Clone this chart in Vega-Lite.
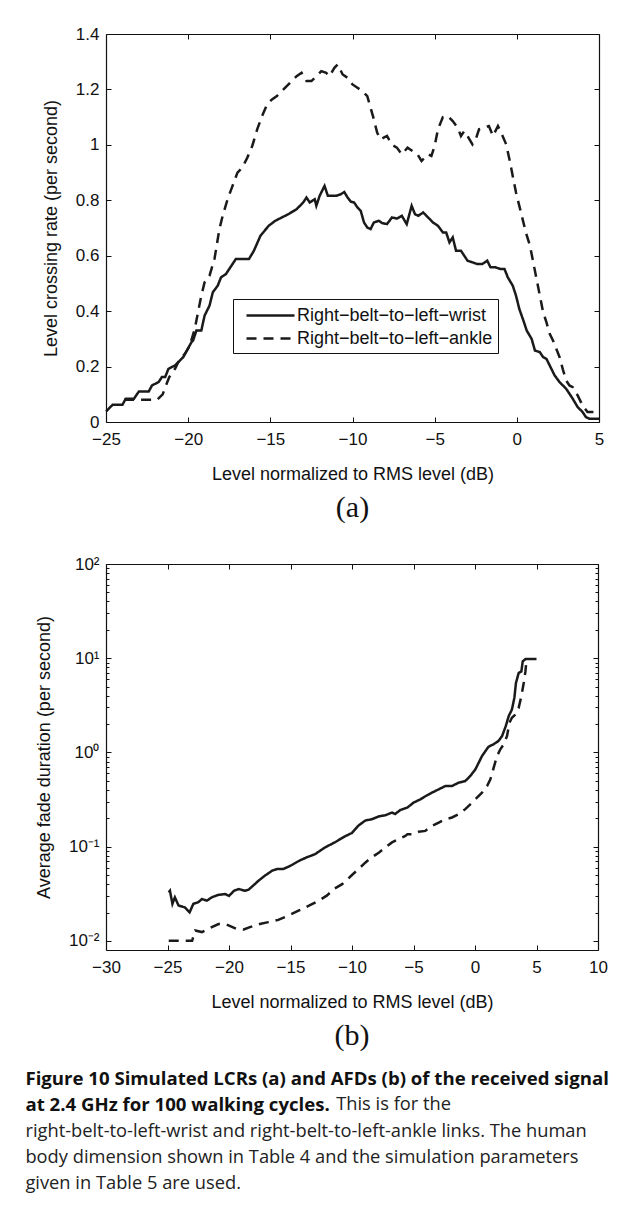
{
  "$schema": "https://vega.github.io/schema/vega-lite/v6.json",
  "background": "white",
  "padding": {"left": 25, "top": 25, "right": 5, "bottom": 5},
  "spacing": 32,
  "config": {
    "font": "Liberation Sans",
    "view": {"stroke": null},
    "axis": {
      "grid": false,
      "domainColor": "#111",
      "domainWidth": 1.2,
      "tickColor": "#111",
      "tickWidth": 1,
      "tickSize": -5,
      "labelPadding": 12,
      "labelColor": "#111",
      "labelFont": "Liberation Sans",
      "labelFontSize": 17,
      "labelFlush": false,
      "labelOverlap": false,
      "labelBound": false,
      "titleColor": "#111",
      "titleFont": "Liberation Sans",
      "titleFontSize": 18,
      "titleFontWeight": "normal"
    },
    "axisX": {"labelPadding": 14},
    "legend": {
      "orient": "none",
      "title": null,
      "strokeColor": "#111",
      "fillColor": "white",
      "padding": 5,
      "labelFont": "Liberation Sans",
      "labelFontSize": 18,
      "labelColor": "#111",
      "labelLimit": 400,
      "symbolSize": 400,
      "symbolStrokeWidth": 2.5,
      "symbolStrokeColor": "#1a1a1a",
      "rowPadding": 2
    }
  },
  "title": {
    "text": ["Figure 10 Simulated LCRs (a) and AFDs (b) of the received signal", "at 2.4 GHz for 100 walking cycles."],
    "subtitle": ["\u200b\u2003\u2003\u2003\u2003\u2003\u2003\u2003\u2003\u2003\u2003\u2003\u2003\u2003\u2003\u2003\u2003\u2003This is for the", "right-belt-to-left-wrist and right-belt-to-left-ankle links. The human", "body dimension shown in Table 4 and the simulation parameters", "given in Table 5 are used."],
    "orient": "bottom",
    "anchor": "start",
    "frame": "bounds",
    "font": "Open Sans",
    "fontSize": 18.6,
    "fontWeight": "bold",
    "lineHeight": 26.3,
    "color": "#111",
    "subtitleFont": "Open Sans",
    "subtitleFontSize": 18.3,
    "subtitleFontWeight": "normal",
    "subtitleLineHeight": 26.3,
    "subtitleColor": "#222",
    "subtitlePadding": -18.6,
    "offset": 19,
    "dx": -10
  },
  "datasets": {
    "lcr": [
      {"x": -25, "y": 0.038, "link": "Right\u2212belt\u2212to\u2212left\u2212wrist"},
      {"x": -24.6, "y": 0.062, "link": "Right\u2212belt\u2212to\u2212left\u2212wrist"},
      {"x": -24.0, "y": 0.062, "link": "Right\u2212belt\u2212to\u2212left\u2212wrist"},
      {"x": -23.8, "y": 0.084, "link": "Right\u2212belt\u2212to\u2212left\u2212wrist"},
      {"x": -23.3, "y": 0.084, "link": "Right\u2212belt\u2212to\u2212left\u2212wrist"},
      {"x": -23.0, "y": 0.11, "link": "Right\u2212belt\u2212to\u2212left\u2212wrist"},
      {"x": -22.4, "y": 0.11, "link": "Right\u2212belt\u2212to\u2212left\u2212wrist"},
      {"x": -22.2, "y": 0.132, "link": "Right\u2212belt\u2212to\u2212left\u2212wrist"},
      {"x": -21.8, "y": 0.144, "link": "Right\u2212belt\u2212to\u2212left\u2212wrist"},
      {"x": -21.6, "y": 0.162, "link": "Right\u2212belt\u2212to\u2212left\u2212wrist"},
      {"x": -21.4, "y": 0.162, "link": "Right\u2212belt\u2212to\u2212left\u2212wrist"},
      {"x": -21.2, "y": 0.192, "link": "Right\u2212belt\u2212to\u2212left\u2212wrist"},
      {"x": -20.8, "y": 0.204, "link": "Right\u2212belt\u2212to\u2212left\u2212wrist"},
      {"x": -20.6, "y": 0.216, "link": "Right\u2212belt\u2212to\u2212left\u2212wrist"},
      {"x": -20.3, "y": 0.234, "link": "Right\u2212belt\u2212to\u2212left\u2212wrist"},
      {"x": -20.1, "y": 0.255, "link": "Right\u2212belt\u2212to\u2212left\u2212wrist"},
      {"x": -19.8, "y": 0.288, "link": "Right\u2212belt\u2212to\u2212left\u2212wrist"},
      {"x": -19.7, "y": 0.294, "link": "Right\u2212belt\u2212to\u2212left\u2212wrist"},
      {"x": -19.5, "y": 0.33, "link": "Right\u2212belt\u2212to\u2212left\u2212wrist"},
      {"x": -19.2, "y": 0.33, "link": "Right\u2212belt\u2212to\u2212left\u2212wrist"},
      {"x": -19.0, "y": 0.384, "link": "Right\u2212belt\u2212to\u2212left\u2212wrist"},
      {"x": -18.7, "y": 0.42, "link": "Right\u2212belt\u2212to\u2212left\u2212wrist"},
      {"x": -18.5, "y": 0.468, "link": "Right\u2212belt\u2212to\u2212left\u2212wrist"},
      {"x": -18.2, "y": 0.492, "link": "Right\u2212belt\u2212to\u2212left\u2212wrist"},
      {"x": -18.0, "y": 0.522, "link": "Right\u2212belt\u2212to\u2212left\u2212wrist"},
      {"x": -17.7, "y": 0.534, "link": "Right\u2212belt\u2212to\u2212left\u2212wrist"},
      {"x": -17.5, "y": 0.552, "link": "Right\u2212belt\u2212to\u2212left\u2212wrist"},
      {"x": -17.1, "y": 0.588, "link": "Right\u2212belt\u2212to\u2212left\u2212wrist"},
      {"x": -16.3, "y": 0.588, "link": "Right\u2212belt\u2212to\u2212left\u2212wrist"},
      {"x": -16.0, "y": 0.618, "link": "Right\u2212belt\u2212to\u2212left\u2212wrist"},
      {"x": -15.6, "y": 0.672, "link": "Right\u2212belt\u2212to\u2212left\u2212wrist"},
      {"x": -15.1, "y": 0.708, "link": "Right\u2212belt\u2212to\u2212left\u2212wrist"},
      {"x": -14.7, "y": 0.726, "link": "Right\u2212belt\u2212to\u2212left\u2212wrist"},
      {"x": -14.3, "y": 0.738, "link": "Right\u2212belt\u2212to\u2212left\u2212wrist"},
      {"x": -13.9, "y": 0.75, "link": "Right\u2212belt\u2212to\u2212left\u2212wrist"},
      {"x": -13.4, "y": 0.768, "link": "Right\u2212belt\u2212to\u2212left\u2212wrist"},
      {"x": -13.0, "y": 0.792, "link": "Right\u2212belt\u2212to\u2212left\u2212wrist"},
      {"x": -12.8, "y": 0.81, "link": "Right\u2212belt\u2212to\u2212left\u2212wrist"},
      {"x": -12.6, "y": 0.792, "link": "Right\u2212belt\u2212to\u2212left\u2212wrist"},
      {"x": -12.3, "y": 0.804, "link": "Right\u2212belt\u2212to\u2212left\u2212wrist"},
      {"x": -12.2, "y": 0.78, "link": "Right\u2212belt\u2212to\u2212left\u2212wrist"},
      {"x": -12.0, "y": 0.816, "link": "Right\u2212belt\u2212to\u2212left\u2212wrist"},
      {"x": -11.7, "y": 0.852, "link": "Right\u2212belt\u2212to\u2212left\u2212wrist"},
      {"x": -11.5, "y": 0.816, "link": "Right\u2212belt\u2212to\u2212left\u2212wrist"},
      {"x": -11.0, "y": 0.816, "link": "Right\u2212belt\u2212to\u2212left\u2212wrist"},
      {"x": -10.7, "y": 0.822, "link": "Right\u2212belt\u2212to\u2212left\u2212wrist"},
      {"x": -10.5, "y": 0.83, "link": "Right\u2212belt\u2212to\u2212left\u2212wrist"},
      {"x": -10.3, "y": 0.81, "link": "Right\u2212belt\u2212to\u2212left\u2212wrist"},
      {"x": -10.1, "y": 0.795, "link": "Right\u2212belt\u2212to\u2212left\u2212wrist"},
      {"x": -9.9, "y": 0.792, "link": "Right\u2212belt\u2212to\u2212left\u2212wrist"},
      {"x": -9.7, "y": 0.774, "link": "Right\u2212belt\u2212to\u2212left\u2212wrist"},
      {"x": -9.5, "y": 0.762, "link": "Right\u2212belt\u2212to\u2212left\u2212wrist"},
      {"x": -9.3, "y": 0.72, "link": "Right\u2212belt\u2212to\u2212left\u2212wrist"},
      {"x": -9.1, "y": 0.702, "link": "Right\u2212belt\u2212to\u2212left\u2212wrist"},
      {"x": -8.9, "y": 0.696, "link": "Right\u2212belt\u2212to\u2212left\u2212wrist"},
      {"x": -8.7, "y": 0.72, "link": "Right\u2212belt\u2212to\u2212left\u2212wrist"},
      {"x": -8.4, "y": 0.726, "link": "Right\u2212belt\u2212to\u2212left\u2212wrist"},
      {"x": -8.2, "y": 0.718, "link": "Right\u2212belt\u2212to\u2212left\u2212wrist"},
      {"x": -7.9, "y": 0.714, "link": "Right\u2212belt\u2212to\u2212left\u2212wrist"},
      {"x": -7.6, "y": 0.738, "link": "Right\u2212belt\u2212to\u2212left\u2212wrist"},
      {"x": -7.3, "y": 0.734, "link": "Right\u2212belt\u2212to\u2212left\u2212wrist"},
      {"x": -7.0, "y": 0.744, "link": "Right\u2212belt\u2212to\u2212left\u2212wrist"},
      {"x": -6.7, "y": 0.714, "link": "Right\u2212belt\u2212to\u2212left\u2212wrist"},
      {"x": -6.4, "y": 0.78, "link": "Right\u2212belt\u2212to\u2212left\u2212wrist"},
      {"x": -6.2, "y": 0.75, "link": "Right\u2212belt\u2212to\u2212left\u2212wrist"},
      {"x": -6.0, "y": 0.744, "link": "Right\u2212belt\u2212to\u2212left\u2212wrist"},
      {"x": -5.7, "y": 0.756, "link": "Right\u2212belt\u2212to\u2212left\u2212wrist"},
      {"x": -5.4, "y": 0.738, "link": "Right\u2212belt\u2212to\u2212left\u2212wrist"},
      {"x": -5.1, "y": 0.72, "link": "Right\u2212belt\u2212to\u2212left\u2212wrist"},
      {"x": -4.8, "y": 0.708, "link": "Right\u2212belt\u2212to\u2212left\u2212wrist"},
      {"x": -4.5, "y": 0.684, "link": "Right\u2212belt\u2212to\u2212left\u2212wrist"},
      {"x": -4.3, "y": 0.684, "link": "Right\u2212belt\u2212to\u2212left\u2212wrist"},
      {"x": -4.1, "y": 0.648, "link": "Right\u2212belt\u2212to\u2212left\u2212wrist"},
      {"x": -3.9, "y": 0.666, "link": "Right\u2212belt\u2212to\u2212left\u2212wrist"},
      {"x": -3.7, "y": 0.618, "link": "Right\u2212belt\u2212to\u2212left\u2212wrist"},
      {"x": -3.4, "y": 0.618, "link": "Right\u2212belt\u2212to\u2212left\u2212wrist"},
      {"x": -3.2, "y": 0.6, "link": "Right\u2212belt\u2212to\u2212left\u2212wrist"},
      {"x": -3.0, "y": 0.582, "link": "Right\u2212belt\u2212to\u2212left\u2212wrist"},
      {"x": -2.7, "y": 0.576, "link": "Right\u2212belt\u2212to\u2212left\u2212wrist"},
      {"x": -2.4, "y": 0.57, "link": "Right\u2212belt\u2212to\u2212left\u2212wrist"},
      {"x": -2.1, "y": 0.57, "link": "Right\u2212belt\u2212to\u2212left\u2212wrist"},
      {"x": -1.8, "y": 0.582, "link": "Right\u2212belt\u2212to\u2212left\u2212wrist"},
      {"x": -1.6, "y": 0.558, "link": "Right\u2212belt\u2212to\u2212left\u2212wrist"},
      {"x": -1.3, "y": 0.558, "link": "Right\u2212belt\u2212to\u2212left\u2212wrist"},
      {"x": -1.0, "y": 0.552, "link": "Right\u2212belt\u2212to\u2212left\u2212wrist"},
      {"x": -0.75, "y": 0.552, "link": "Right\u2212belt\u2212to\u2212left\u2212wrist"},
      {"x": -0.55, "y": 0.522, "link": "Right\u2212belt\u2212to\u2212left\u2212wrist"},
      {"x": -0.25, "y": 0.492, "link": "Right\u2212belt\u2212to\u2212left\u2212wrist"},
      {"x": -0.05, "y": 0.456, "link": "Right\u2212belt\u2212to\u2212left\u2212wrist"},
      {"x": 0.15, "y": 0.408, "link": "Right\u2212belt\u2212to\u2212left\u2212wrist"},
      {"x": 0.4, "y": 0.366, "link": "Right\u2212belt\u2212to\u2212left\u2212wrist"},
      {"x": 0.6, "y": 0.33, "link": "Right\u2212belt\u2212to\u2212left\u2212wrist"},
      {"x": 0.9, "y": 0.3, "link": "Right\u2212belt\u2212to\u2212left\u2212wrist"},
      {"x": 1.1, "y": 0.258, "link": "Right\u2212belt\u2212to\u2212left\u2212wrist"},
      {"x": 1.4, "y": 0.252, "link": "Right\u2212belt\u2212to\u2212left\u2212wrist"},
      {"x": 1.6, "y": 0.234, "link": "Right\u2212belt\u2212to\u2212left\u2212wrist"},
      {"x": 1.8, "y": 0.228, "link": "Right\u2212belt\u2212to\u2212left\u2212wrist"},
      {"x": 2.0, "y": 0.204, "link": "Right\u2212belt\u2212to\u2212left\u2212wrist"},
      {"x": 2.3, "y": 0.168, "link": "Right\u2212belt\u2212to\u2212left\u2212wrist"},
      {"x": 2.6, "y": 0.144, "link": "Right\u2212belt\u2212to\u2212left\u2212wrist"},
      {"x": 3.0, "y": 0.12, "link": "Right\u2212belt\u2212to\u2212left\u2212wrist"},
      {"x": 3.4, "y": 0.084, "link": "Right\u2212belt\u2212to\u2212left\u2212wrist"},
      {"x": 3.7, "y": 0.054, "link": "Right\u2212belt\u2212to\u2212left\u2212wrist"},
      {"x": 4.0, "y": 0.036, "link": "Right\u2212belt\u2212to\u2212left\u2212wrist"},
      {"x": 4.2, "y": 0.018, "link": "Right\u2212belt\u2212to\u2212left\u2212wrist"},
      {"x": 4.4, "y": 0.012, "link": "Right\u2212belt\u2212to\u2212left\u2212wrist"},
      {"x": 5.0, "y": 0.012, "link": "Right\u2212belt\u2212to\u2212left\u2212wrist"},
      {"x": -23.9, "y": 0.08, "link": "Right\u2212belt\u2212to\u2212left\u2212ankle"},
      {"x": -21.9, "y": 0.08, "link": "Right\u2212belt\u2212to\u2212left\u2212ankle"},
      {"x": -21.55, "y": 0.1, "link": "Right\u2212belt\u2212to\u2212left\u2212ankle"},
      {"x": -21.35, "y": 0.132, "link": "Right\u2212belt\u2212to\u2212left\u2212ankle"},
      {"x": -21.15, "y": 0.162, "link": "Right\u2212belt\u2212to\u2212left\u2212ankle"},
      {"x": -20.8, "y": 0.192, "link": "Right\u2212belt\u2212to\u2212left\u2212ankle"},
      {"x": -20.5, "y": 0.228, "link": "Right\u2212belt\u2212to\u2212left\u2212ankle"},
      {"x": -20.2, "y": 0.246, "link": "Right\u2212belt\u2212to\u2212left\u2212ankle"},
      {"x": -19.9, "y": 0.276, "link": "Right\u2212belt\u2212to\u2212left\u2212ankle"},
      {"x": -19.6, "y": 0.336, "link": "Right\u2212belt\u2212to\u2212left\u2212ankle"},
      {"x": -19.4, "y": 0.396, "link": "Right\u2212belt\u2212to\u2212left\u2212ankle"},
      {"x": -19.2, "y": 0.456, "link": "Right\u2212belt\u2212to\u2212left\u2212ankle"},
      {"x": -19.0, "y": 0.504, "link": "Right\u2212belt\u2212to\u2212left\u2212ankle"},
      {"x": -18.7, "y": 0.528, "link": "Right\u2212belt\u2212to\u2212left\u2212ankle"},
      {"x": -18.4, "y": 0.588, "link": "Right\u2212belt\u2212to\u2212left\u2212ankle"},
      {"x": -18.3, "y": 0.624, "link": "Right\u2212belt\u2212to\u2212left\u2212ankle"},
      {"x": -18.1, "y": 0.696, "link": "Right\u2212belt\u2212to\u2212left\u2212ankle"},
      {"x": -17.9, "y": 0.744, "link": "Right\u2212belt\u2212to\u2212left\u2212ankle"},
      {"x": -17.6, "y": 0.804, "link": "Right\u2212belt\u2212to\u2212left\u2212ankle"},
      {"x": -17.3, "y": 0.852, "link": "Right\u2212belt\u2212to\u2212left\u2212ankle"},
      {"x": -17.0, "y": 0.9, "link": "Right\u2212belt\u2212to\u2212left\u2212ankle"},
      {"x": -16.7, "y": 0.918, "link": "Right\u2212belt\u2212to\u2212left\u2212ankle"},
      {"x": -16.4, "y": 0.954, "link": "Right\u2212belt\u2212to\u2212left\u2212ankle"},
      {"x": -16.1, "y": 0.996, "link": "Right\u2212belt\u2212to\u2212left\u2212ankle"},
      {"x": -15.8, "y": 1.056, "link": "Right\u2212belt\u2212to\u2212left\u2212ankle"},
      {"x": -15.5, "y": 1.104, "link": "Right\u2212belt\u2212to\u2212left\u2212ankle"},
      {"x": -15.2, "y": 1.146, "link": "Right\u2212belt\u2212to\u2212left\u2212ankle"},
      {"x": -14.9, "y": 1.164, "link": "Right\u2212belt\u2212to\u2212left\u2212ankle"},
      {"x": -14.6, "y": 1.176, "link": "Right\u2212belt\u2212to\u2212left\u2212ankle"},
      {"x": -14.2, "y": 1.2, "link": "Right\u2212belt\u2212to\u2212left\u2212ankle"},
      {"x": -13.8, "y": 1.224, "link": "Right\u2212belt\u2212to\u2212left\u2212ankle"},
      {"x": -13.4, "y": 1.248, "link": "Right\u2212belt\u2212to\u2212left\u2212ankle"},
      {"x": -13.1, "y": 1.26, "link": "Right\u2212belt\u2212to\u2212left\u2212ankle"},
      {"x": -12.8, "y": 1.23, "link": "Right\u2212belt\u2212to\u2212left\u2212ankle"},
      {"x": -12.5, "y": 1.23, "link": "Right\u2212belt\u2212to\u2212left\u2212ankle"},
      {"x": -12.2, "y": 1.248, "link": "Right\u2212belt\u2212to\u2212left\u2212ankle"},
      {"x": -11.9, "y": 1.266, "link": "Right\u2212belt\u2212to\u2212left\u2212ankle"},
      {"x": -11.6, "y": 1.26, "link": "Right\u2212belt\u2212to\u2212left\u2212ankle"},
      {"x": -11.4, "y": 1.248, "link": "Right\u2212belt\u2212to\u2212left\u2212ankle"},
      {"x": -11.1, "y": 1.278, "link": "Right\u2212belt\u2212to\u2212left\u2212ankle"},
      {"x": -10.9, "y": 1.29, "link": "Right\u2212belt\u2212to\u2212left\u2212ankle"},
      {"x": -10.6, "y": 1.254, "link": "Right\u2212belt\u2212to\u2212left\u2212ankle"},
      {"x": -10.3, "y": 1.242, "link": "Right\u2212belt\u2212to\u2212left\u2212ankle"},
      {"x": -10.0, "y": 1.218, "link": "Right\u2212belt\u2212to\u2212left\u2212ankle"},
      {"x": -9.7, "y": 1.206, "link": "Right\u2212belt\u2212to\u2212left\u2212ankle"},
      {"x": -9.4, "y": 1.194, "link": "Right\u2212belt\u2212to\u2212left\u2212ankle"},
      {"x": -9.1, "y": 1.176, "link": "Right\u2212belt\u2212to\u2212left\u2212ankle"},
      {"x": -8.9, "y": 1.134, "link": "Right\u2212belt\u2212to\u2212left\u2212ankle"},
      {"x": -8.7, "y": 1.092, "link": "Right\u2212belt\u2212to\u2212left\u2212ankle"},
      {"x": -8.5, "y": 1.044, "link": "Right\u2212belt\u2212to\u2212left\u2212ankle"},
      {"x": -8.3, "y": 1.02, "link": "Right\u2212belt\u2212to\u2212left\u2212ankle"},
      {"x": -8.1, "y": 1.026, "link": "Right\u2212belt\u2212to\u2212left\u2212ankle"},
      {"x": -7.9, "y": 1.032, "link": "Right\u2212belt\u2212to\u2212left\u2212ankle"},
      {"x": -7.6, "y": 1.0, "link": "Right\u2212belt\u2212to\u2212left\u2212ankle"},
      {"x": -7.3, "y": 0.99, "link": "Right\u2212belt\u2212to\u2212left\u2212ankle"},
      {"x": -7.0, "y": 0.966, "link": "Right\u2212belt\u2212to\u2212left\u2212ankle"},
      {"x": -6.65, "y": 0.99, "link": "Right\u2212belt\u2212to\u2212left\u2212ankle"},
      {"x": -6.35, "y": 0.978, "link": "Right\u2212belt\u2212to\u2212left\u2212ankle"},
      {"x": -6.05, "y": 0.966, "link": "Right\u2212belt\u2212to\u2212left\u2212ankle"},
      {"x": -5.8, "y": 0.942, "link": "Right\u2212belt\u2212to\u2212left\u2212ankle"},
      {"x": -5.6, "y": 0.954, "link": "Right\u2212belt\u2212to\u2212left\u2212ankle"},
      {"x": -5.4, "y": 0.966, "link": "Right\u2212belt\u2212to\u2212left\u2212ankle"},
      {"x": -5.2, "y": 0.96, "link": "Right\u2212belt\u2212to\u2212left\u2212ankle"},
      {"x": -5.0, "y": 0.996, "link": "Right\u2212belt\u2212to\u2212left\u2212ankle"},
      {"x": -4.8, "y": 1.056, "link": "Right\u2212belt\u2212to\u2212left\u2212ankle"},
      {"x": -4.5, "y": 1.1, "link": "Right\u2212belt\u2212to\u2212left\u2212ankle"},
      {"x": -4.2, "y": 1.104, "link": "Right\u2212belt\u2212to\u2212left\u2212ankle"},
      {"x": -3.9, "y": 1.086, "link": "Right\u2212belt\u2212to\u2212left\u2212ankle"},
      {"x": -3.6, "y": 1.062, "link": "Right\u2212belt\u2212to\u2212left\u2212ankle"},
      {"x": -3.4, "y": 1.032, "link": "Right\u2212belt\u2212to\u2212left\u2212ankle"},
      {"x": -3.2, "y": 1.05, "link": "Right\u2212belt\u2212to\u2212left\u2212ankle"},
      {"x": -3.0, "y": 1.032, "link": "Right\u2212belt\u2212to\u2212left\u2212ankle"},
      {"x": -2.7, "y": 1.002, "link": "Right\u2212belt\u2212to\u2212left\u2212ankle"},
      {"x": -2.5, "y": 1.02, "link": "Right\u2212belt\u2212to\u2212left\u2212ankle"},
      {"x": -2.3, "y": 1.056, "link": "Right\u2212belt\u2212to\u2212left\u2212ankle"},
      {"x": -2.0, "y": 1.062, "link": "Right\u2212belt\u2212to\u2212left\u2212ankle"},
      {"x": -1.7, "y": 1.068, "link": "Right\u2212belt\u2212to\u2212left\u2212ankle"},
      {"x": -1.45, "y": 1.032, "link": "Right\u2212belt\u2212to\u2212left\u2212ankle"},
      {"x": -1.15, "y": 1.068, "link": "Right\u2212belt\u2212to\u2212left\u2212ankle"},
      {"x": -0.95, "y": 1.044, "link": "Right\u2212belt\u2212to\u2212left\u2212ankle"},
      {"x": -0.65, "y": 1.002, "link": "Right\u2212belt\u2212to\u2212left\u2212ankle"},
      {"x": -0.45, "y": 0.948, "link": "Right\u2212belt\u2212to\u2212left\u2212ankle"},
      {"x": -0.25, "y": 0.888, "link": "Right\u2212belt\u2212to\u2212left\u2212ankle"},
      {"x": -0.05, "y": 0.828, "link": "Right\u2212belt\u2212to\u2212left\u2212ankle"},
      {"x": 0.15, "y": 0.78, "link": "Right\u2212belt\u2212to\u2212left\u2212ankle"},
      {"x": 0.35, "y": 0.732, "link": "Right\u2212belt\u2212to\u2212left\u2212ankle"},
      {"x": 0.55, "y": 0.684, "link": "Right\u2212belt\u2212to\u2212left\u2212ankle"},
      {"x": 0.8, "y": 0.636, "link": "Right\u2212belt\u2212to\u2212left\u2212ankle"},
      {"x": 1.0, "y": 0.576, "link": "Right\u2212belt\u2212to\u2212left\u2212ankle"},
      {"x": 1.2, "y": 0.516, "link": "Right\u2212belt\u2212to\u2212left\u2212ankle"},
      {"x": 1.4, "y": 0.456, "link": "Right\u2212belt\u2212to\u2212left\u2212ankle"},
      {"x": 1.6, "y": 0.396, "link": "Right\u2212belt\u2212to\u2212left\u2212ankle"},
      {"x": 1.8, "y": 0.36, "link": "Right\u2212belt\u2212to\u2212left\u2212ankle"},
      {"x": 2.0, "y": 0.318, "link": "Right\u2212belt\u2212to\u2212left\u2212ankle"},
      {"x": 2.2, "y": 0.294, "link": "Right\u2212belt\u2212to\u2212left\u2212ankle"},
      {"x": 2.4, "y": 0.264, "link": "Right\u2212belt\u2212to\u2212left\u2212ankle"},
      {"x": 2.6, "y": 0.234, "link": "Right\u2212belt\u2212to\u2212left\u2212ankle"},
      {"x": 2.8, "y": 0.19, "link": "Right\u2212belt\u2212to\u2212left\u2212ankle"},
      {"x": 3.0, "y": 0.15, "link": "Right\u2212belt\u2212to\u2212left\u2212ankle"},
      {"x": 3.2, "y": 0.132, "link": "Right\u2212belt\u2212to\u2212left\u2212ankle"},
      {"x": 3.4, "y": 0.126, "link": "Right\u2212belt\u2212to\u2212left\u2212ankle"},
      {"x": 3.7, "y": 0.096, "link": "Right\u2212belt\u2212to\u2212left\u2212ankle"},
      {"x": 4.0, "y": 0.06, "link": "Right\u2212belt\u2212to\u2212left\u2212ankle"},
      {"x": 4.3, "y": 0.036, "link": "Right\u2212belt\u2212to\u2212left\u2212ankle"},
      {"x": 5.0, "y": 0.036, "link": "Right\u2212belt\u2212to\u2212left\u2212ankle"}
    ],
    "afd": [
      {"x": -24.9, "y": 0.0327, "link": "Right\u2212belt\u2212to\u2212left\u2212wrist"},
      {"x": -24.8, "y": 0.034, "link": "Right\u2212belt\u2212to\u2212left\u2212wrist"},
      {"x": -24.6, "y": 0.0247, "link": "Right\u2212belt\u2212to\u2212left\u2212wrist"},
      {"x": -24.4, "y": 0.029, "link": "Right\u2212belt\u2212to\u2212left\u2212wrist"},
      {"x": -24.1, "y": 0.0237, "link": "Right\u2212belt\u2212to\u2212left\u2212wrist"},
      {"x": -23.6, "y": 0.0227, "link": "Right\u2212belt\u2212to\u2212left\u2212wrist"},
      {"x": -23.2, "y": 0.0201, "link": "Right\u2212belt\u2212to\u2212left\u2212wrist"},
      {"x": -22.9, "y": 0.0247, "link": "Right\u2212belt\u2212to\u2212left\u2212wrist"},
      {"x": -22.5, "y": 0.0257, "link": "Right\u2212belt\u2212to\u2212left\u2212wrist"},
      {"x": -22.2, "y": 0.0278, "link": "Right\u2212belt\u2212to\u2212left\u2212wrist"},
      {"x": -21.8, "y": 0.0267, "link": "Right\u2212belt\u2212to\u2212left\u2212wrist"},
      {"x": -21.4, "y": 0.029, "link": "Right\u2212belt\u2212to\u2212left\u2212wrist"},
      {"x": -20.9, "y": 0.0307, "link": "Right\u2212belt\u2212to\u2212left\u2212wrist"},
      {"x": -20.3, "y": 0.0314, "link": "Right\u2212belt\u2212to\u2212left\u2212wrist"},
      {"x": -20.0, "y": 0.03, "link": "Right\u2212belt\u2212to\u2212left\u2212wrist"},
      {"x": -19.6, "y": 0.034, "link": "Right\u2212belt\u2212to\u2212left\u2212wrist"},
      {"x": -19.2, "y": 0.0355, "link": "Right\u2212belt\u2212to\u2212left\u2212wrist"},
      {"x": -18.7, "y": 0.034, "link": "Right\u2212belt\u2212to\u2212left\u2212wrist"},
      {"x": -18.4, "y": 0.035, "link": "Right\u2212belt\u2212to\u2212left\u2212wrist"},
      {"x": -18.0, "y": 0.039, "link": "Right\u2212belt\u2212to\u2212left\u2212wrist"},
      {"x": -17.6, "y": 0.0435, "link": "Right\u2212belt\u2212to\u2212left\u2212wrist"},
      {"x": -17.1, "y": 0.049, "link": "Right\u2212belt\u2212to\u2212left\u2212wrist"},
      {"x": -16.5, "y": 0.0555, "link": "Right\u2212belt\u2212to\u2212left\u2212wrist"},
      {"x": -16.1, "y": 0.0578, "link": "Right\u2212belt\u2212to\u2212left\u2212wrist"},
      {"x": -15.6, "y": 0.0578, "link": "Right\u2212belt\u2212to\u2212left\u2212wrist"},
      {"x": -15.0, "y": 0.0627, "link": "Right\u2212belt\u2212to\u2212left\u2212wrist"},
      {"x": -14.3, "y": 0.0708, "link": "Right\u2212belt\u2212to\u2212left\u2212wrist"},
      {"x": -13.7, "y": 0.0768, "link": "Right\u2212belt\u2212to\u2212left\u2212wrist"},
      {"x": -13.0, "y": 0.0833, "link": "Right\u2212belt\u2212to\u2212left\u2212wrist"},
      {"x": -12.2, "y": 0.098, "link": "Right\u2212belt\u2212to\u2212left\u2212wrist"},
      {"x": -11.4, "y": 0.111, "link": "Right\u2212belt\u2212to\u2212left\u2212wrist"},
      {"x": -10.6, "y": 0.128, "link": "Right\u2212belt\u2212to\u2212left\u2212wrist"},
      {"x": -10.0, "y": 0.14, "link": "Right\u2212belt\u2212to\u2212left\u2212wrist"},
      {"x": -9.46, "y": 0.168, "link": "Right\u2212belt\u2212to\u2212left\u2212wrist"},
      {"x": -8.9, "y": 0.19, "link": "Right\u2212belt\u2212to\u2212left\u2212wrist"},
      {"x": -8.4, "y": 0.195, "link": "Right\u2212belt\u2212to\u2212left\u2212wrist"},
      {"x": -7.8, "y": 0.21, "link": "Right\u2212belt\u2212to\u2212left\u2212wrist"},
      {"x": -7.3, "y": 0.215, "link": "Right\u2212belt\u2212to\u2212left\u2212wrist"},
      {"x": -6.75, "y": 0.23, "link": "Right\u2212belt\u2212to\u2212left\u2212wrist"},
      {"x": -6.5, "y": 0.222, "link": "Right\u2212belt\u2212to\u2212left\u2212wrist"},
      {"x": -6.07, "y": 0.245, "link": "Right\u2212belt\u2212to\u2212left\u2212wrist"},
      {"x": -5.5, "y": 0.26, "link": "Right\u2212belt\u2212to\u2212left\u2212wrist"},
      {"x": -5.0, "y": 0.293, "link": "Right\u2212belt\u2212to\u2212left\u2212wrist"},
      {"x": -4.44, "y": 0.318, "link": "Right\u2212belt\u2212to\u2212left\u2212wrist"},
      {"x": -3.9, "y": 0.351, "link": "Right\u2212belt\u2212to\u2212left\u2212wrist"},
      {"x": -3.5, "y": 0.374, "link": "Right\u2212belt\u2212to\u2212left\u2212wrist"},
      {"x": -2.95, "y": 0.406, "link": "Right\u2212belt\u2212to\u2212left\u2212wrist"},
      {"x": -2.4, "y": 0.44, "link": "Right\u2212belt\u2212to\u2212left\u2212wrist"},
      {"x": -1.87, "y": 0.44, "link": "Right\u2212belt\u2212to\u2212left\u2212wrist"},
      {"x": -1.33, "y": 0.478, "link": "Right\u2212belt\u2212to\u2212left\u2212wrist"},
      {"x": -0.79, "y": 0.497, "link": "Right\u2212belt\u2212to\u2212left\u2212wrist"},
      {"x": -0.38, "y": 0.563, "link": "Right\u2212belt\u2212to\u2212left\u2212wrist"},
      {"x": 0.03, "y": 0.661, "link": "Right\u2212belt\u2212to\u2212left\u2212wrist"},
      {"x": 0.3, "y": 0.778, "link": "Right\u2212belt\u2212to\u2212left\u2212wrist"},
      {"x": 0.57, "y": 0.915, "link": "Right\u2212belt\u2212to\u2212left\u2212wrist"},
      {"x": 0.84, "y": 1.03, "link": "Right\u2212belt\u2212to\u2212left\u2212wrist"},
      {"x": 1.1, "y": 1.15, "link": "Right\u2212belt\u2212to\u2212left\u2212wrist"},
      {"x": 1.5, "y": 1.22, "link": "Right\u2212belt\u2212to\u2212left\u2212wrist"},
      {"x": 1.9, "y": 1.32, "link": "Right\u2212belt\u2212to\u2212left\u2212wrist"},
      {"x": 2.2, "y": 1.49, "link": "Right\u2212belt\u2212to\u2212left\u2212wrist"},
      {"x": 2.5, "y": 1.9, "link": "Right\u2212belt\u2212to\u2212left\u2212wrist"},
      {"x": 2.74, "y": 2.43, "link": "Right\u2212belt\u2212to\u2212left\u2212wrist"},
      {"x": 3.0, "y": 2.85, "link": "Right\u2212belt\u2212to\u2212left\u2212wrist"},
      {"x": 3.2, "y": 3.79, "link": "Right\u2212belt\u2212to\u2212left\u2212wrist"},
      {"x": 3.33, "y": 5.46, "link": "Right\u2212belt\u2212to\u2212left\u2212wrist"},
      {"x": 3.55, "y": 6.97, "link": "Right\u2212belt\u2212to\u2212left\u2212wrist"},
      {"x": 3.77, "y": 7.25, "link": "Right\u2212belt\u2212to\u2212left\u2212wrist"},
      {"x": 3.88, "y": 9.25, "link": "Right\u2212belt\u2212to\u2212left\u2212wrist"},
      {"x": 4.1, "y": 9.8, "link": "Right\u2212belt\u2212to\u2212left\u2212wrist"},
      {"x": 5.0, "y": 9.8, "link": "Right\u2212belt\u2212to\u2212left\u2212wrist"},
      {"x": -24.9, "y": 0.01, "link": "Right\u2212belt\u2212to\u2212left\u2212ankle"},
      {"x": -23.0, "y": 0.01, "link": "Right\u2212belt\u2212to\u2212left\u2212ankle"},
      {"x": -22.75, "y": 0.0129, "link": "Right\u2212belt\u2212to\u2212left\u2212ankle"},
      {"x": -22.2, "y": 0.0124, "link": "Right\u2212belt\u2212to\u2212left\u2212ankle"},
      {"x": -21.4, "y": 0.014, "link": "Right\u2212belt\u2212to\u2212left\u2212ankle"},
      {"x": -20.85, "y": 0.0151, "link": "Right\u2212belt\u2212to\u2212left\u2212ankle"},
      {"x": -20.3, "y": 0.0151, "link": "Right\u2212belt\u2212to\u2212left\u2212ankle"},
      {"x": -19.9, "y": 0.0143, "link": "Right\u2212belt\u2212to\u2212left\u2212ankle"},
      {"x": -19.4, "y": 0.0134, "link": "Right\u2212belt\u2212to\u2212left\u2212ankle"},
      {"x": -18.8, "y": 0.0132, "link": "Right\u2212belt\u2212to\u2212left\u2212ankle"},
      {"x": -18.3, "y": 0.014, "link": "Right\u2212belt\u2212to\u2212left\u2212ankle"},
      {"x": -17.5, "y": 0.0151, "link": "Right\u2212belt\u2212to\u2212left\u2212ankle"},
      {"x": -16.8, "y": 0.0158, "link": "Right\u2212belt\u2212to\u2212left\u2212ankle"},
      {"x": -16.0, "y": 0.0167, "link": "Right\u2212belt\u2212to\u2212left\u2212ankle"},
      {"x": -15.2, "y": 0.0185, "link": "Right\u2212belt\u2212to\u2212left\u2212ankle"},
      {"x": -14.35, "y": 0.0209, "link": "Right\u2212belt\u2212to\u2212left\u2212ankle"},
      {"x": -13.5, "y": 0.0236, "link": "Right\u2212belt\u2212to\u2212left\u2212ankle"},
      {"x": -12.7, "y": 0.0267, "link": "Right\u2212belt\u2212to\u2212left\u2212ankle"},
      {"x": -12.05, "y": 0.0302, "link": "Right\u2212belt\u2212to\u2212left\u2212ankle"},
      {"x": -11.4, "y": 0.036, "link": "Right\u2212belt\u2212to\u2212left\u2212ankle"},
      {"x": -10.8, "y": 0.04, "link": "Right\u2212belt\u2212to\u2212left\u2212ankle"},
      {"x": -10.0, "y": 0.05, "link": "Right\u2212belt\u2212to\u2212left\u2212ankle"},
      {"x": -9.46, "y": 0.058, "link": "Right\u2212belt\u2212to\u2212left\u2212ankle"},
      {"x": -8.9, "y": 0.068, "link": "Right\u2212belt\u2212to\u2212left\u2212ankle"},
      {"x": -8.4, "y": 0.077, "link": "Right\u2212belt\u2212to\u2212left\u2212ankle"},
      {"x": -7.8, "y": 0.0867, "link": "Right\u2212belt\u2212to\u2212left\u2212ankle"},
      {"x": -7.3, "y": 0.098, "link": "Right\u2212belt\u2212to\u2212left\u2212ankle"},
      {"x": -6.75, "y": 0.111, "link": "Right\u2212belt\u2212to\u2212left\u2212ankle"},
      {"x": -6.2, "y": 0.12, "link": "Right\u2212belt\u2212to\u2212left\u2212ankle"},
      {"x": -5.66, "y": 0.13, "link": "Right\u2212belt\u2212to\u2212left\u2212ankle"},
      {"x": -5.5, "y": 0.135, "link": "Right\u2212belt\u2212to\u2212left\u2212ankle"},
      {"x": -5.1, "y": 0.135, "link": "Right\u2212belt\u2212to\u2212left\u2212ankle"},
      {"x": -4.58, "y": 0.144, "link": "Right\u2212belt\u2212to\u2212left\u2212ankle"},
      {"x": -4.04, "y": 0.147, "link": "Right\u2212belt\u2212to\u2212left\u2212ankle"},
      {"x": -3.5, "y": 0.166, "link": "Right\u2212belt\u2212to\u2212left\u2212ankle"},
      {"x": -2.95, "y": 0.18, "link": "Right\u2212belt\u2212to\u2212left\u2212ankle"},
      {"x": -2.4, "y": 0.195, "link": "Right\u2212belt\u2212to\u2212left\u2212ankle"},
      {"x": -1.87, "y": 0.204, "link": "Right\u2212belt\u2212to\u2212left\u2212ankle"},
      {"x": -1.33, "y": 0.221, "link": "Right\u2212belt\u2212to\u2212left\u2212ankle"},
      {"x": -0.79, "y": 0.25, "link": "Right\u2212belt\u2212to\u2212left\u2212ankle"},
      {"x": -0.24, "y": 0.293, "link": "Right\u2212belt\u2212to\u2212left\u2212ankle"},
      {"x": 0.16, "y": 0.331, "link": "Right\u2212belt\u2212to\u2212left\u2212ankle"},
      {"x": 0.57, "y": 0.374, "link": "Right\u2212belt\u2212to\u2212left\u2212ankle"},
      {"x": 0.98, "y": 0.44, "link": "Right\u2212belt\u2212to\u2212left\u2212ankle"},
      {"x": 1.25, "y": 0.518, "link": "Right\u2212belt\u2212to\u2212left\u2212ankle"},
      {"x": 1.52, "y": 0.689, "link": "Right\u2212belt\u2212to\u2212left\u2212ankle"},
      {"x": 1.79, "y": 0.915, "link": "Right\u2212belt\u2212to\u2212left\u2212ankle"},
      {"x": 2.06, "y": 1.08, "link": "Right\u2212belt\u2212to\u2212left\u2212ankle"},
      {"x": 2.33, "y": 1.22, "link": "Right\u2212belt\u2212to\u2212left\u2212ankle"},
      {"x": 2.6, "y": 1.49, "link": "Right\u2212belt\u2212to\u2212left\u2212ankle"},
      {"x": 2.8, "y": 2.06, "link": "Right\u2212belt\u2212to\u2212left\u2212ankle"},
      {"x": 3.0, "y": 2.33, "link": "Right\u2212belt\u2212to\u2212left\u2212ankle"},
      {"x": 3.28, "y": 2.52, "link": "Right\u2212belt\u2212to\u2212left\u2212ankle"},
      {"x": 3.55, "y": 2.97, "link": "Right\u2212belt\u2212to\u2212left\u2212ankle"},
      {"x": 3.77, "y": 3.95, "link": "Right\u2212belt\u2212to\u2212left\u2212ankle"},
      {"x": 3.96, "y": 5.46, "link": "Right\u2212belt\u2212to\u2212left\u2212ankle"},
      {"x": 4.1, "y": 7.25, "link": "Right\u2212belt\u2212to\u2212left\u2212ankle"},
      {"x": 4.15, "y": 8.5, "link": "Right\u2212belt\u2212to\u2212left\u2212ankle"},
      {"x": 4.25, "y": 8.5, "link": "Right\u2212belt\u2212to\u2212left\u2212ankle"}
    ]
  },
  "vconcat": [
    {
      "width": 493,
      "height": 388,
      "data": {"name": "lcr"},
      "title": {"text": "(a)", "orient": "bottom", "anchor": "middle", "font": "Liberation Serif", "fontSize": 30, "fontWeight": "normal", "color": "#111", "offset": 10},
      "layer": [
        {
          "mark": {"type": "line", "strokeWidth": 2.5, "color": "#1a1a1a"},
          "encoding": {
            "x": {"field": "x", "type": "quantitative", "scale": {"domain": [-25, 5], "nice": false, "zero": false},
                  "axis": {"orient": "bottom", "values": [-25, -20, -15, -10, -5, 0, 5], "format": "~g", "title": "Level normalized to RMS level (dB)", "titlePadding": 18}},
            "y": {"field": "y", "type": "quantitative", "scale": {"domain": [0, 1.4], "nice": false, "zero": false},
                  "axis": {"orient": "left", "values": [0, 0.2, 0.4, 0.6, 0.8, 1, 1.2, 1.4], "format": "~g", "title": "Level crossing rate (per second)", "titlePadding": 15}},
            "strokeDash": {"field": "link", "type": "nominal",
                           "scale": {"domain": ["Right\u2212belt\u2212to\u2212left\u2212wrist", "Right\u2212belt\u2212to\u2212left\u2212ankle"], "range": [[1, 0], [10, 7]]},
                           "legend": {"orient": "none", "legendX": 127, "legendY": 265, "title": null, "symbolType": "M-2.4,0H2.4", "symbolSize": 400, "symbolOffset": 21, "labelOffset": 15, "padding": 5, "rowPadding": 2}}
          }
        },
        {
          "mark": {"type": "point", "opacity": 0},
          "encoding": {
            "x": {"field": "x", "type": "quantitative", "scale": {"domain": [-25, 5], "nice": false, "zero": false},
                  "axis": {"orient": "top", "values": [-25, -20, -15, -10, -5, 0, 5], "labels": false, "title": null}},
            "y": {"field": "y", "type": "quantitative", "scale": {"domain": [0, 1.4], "nice": false, "zero": false},
                  "axis": {"orient": "right", "values": [0, 0.2, 0.4, 0.6, 0.8, 1, 1.2, 1.4], "labels": false, "title": null}}
          }
        }
      ],
      "resolve": {"axis": {"x": "independent", "y": "independent"}}
    },
    {
      "width": 492,
      "height": 386,
      "data": {"name": "afd"},
      "title": {"text": "(b)", "orient": "bottom", "anchor": "middle", "font": "Liberation Serif", "fontSize": 30, "fontWeight": "normal", "color": "#111", "offset": 10},
      "layer": [
        {
          "mark": {"type": "line", "strokeWidth": 2.5, "color": "#1a1a1a"},
          "encoding": {
            "x": {"field": "x", "type": "quantitative", "scale": {"domain": [-30, 10], "nice": false, "zero": false},
                  "axis": {"orient": "bottom", "values": [-30, -25, -20, -15, -10, -5, 0, 5, 10], "format": "~g", "title": "Level normalized to RMS level (dB)", "titlePadding": 18}},
            "y": {"field": "y", "type": "quantitative", "scale": {"type": "log", "domain": [0.008, 100], "nice": false},
                  "axis": {"orient": "left", "values": [0.01, 0.1, 1, 10, 100], "labelExpr": "datum.value > 50 ? '10\u00b2' : datum.value > 5 ? '10\u00b9' : datum.value > 0.5 ? '10\u2070' : datum.value > 0.05 ? '10\u207b\u00b9' : '10\u207b\u00b2'", "title": "Average fade duration (per second)", "titlePadding": 15}},
            "strokeDash": {"field": "link", "type": "nominal",
                           "scale": {"domain": ["Right\u2212belt\u2212to\u2212left\u2212wrist", "Right\u2212belt\u2212to\u2212left\u2212ankle"], "range": [[1, 0], [10, 7]]},
                           "legend": {"orient": "none", "legendX": 127, "legendY": 4, "title": null, "symbolType": "M-2.4,0H2.4", "symbolSize": 400, "symbolOffset": 21, "labelOffset": 15, "padding": 5, "rowPadding": 2}}
          }
        },
        {
          "mark": {"type": "point", "opacity": 0},
          "encoding": {
            "x": {"field": "x", "type": "quantitative", "scale": {"domain": [-30, 10], "nice": false, "zero": false},
                  "axis": {"orient": "top", "values": [-30, -25, -20, -15, -10, -5, 0, 5, 10], "labels": false, "title": null}},
            "y": {"field": "y", "type": "quantitative", "scale": {"type": "log", "domain": [0.008, 100], "nice": false},
                  "axis": {"orient": "right", "values": [0.01, 0.1, 1, 10, 100], "labels": false, "title": null}}
          }
        },
        {
          "mark": {"type": "point", "opacity": 0},
          "encoding": {
            "x": {"field": "x", "type": "quantitative", "scale": {"domain": [-30, 10], "nice": false, "zero": false}, "axis": null},
            "y": {"field": "y", "type": "quantitative", "scale": {"type": "log", "domain": [0.008, 100], "nice": false},
                  "axis": {"orient": "left", "values": [0.02, 0.03, 0.04, 0.05, 0.06, 0.07, 0.08, 0.09, 0.2, 0.3, 0.4, 0.5, 0.6, 0.7, 0.8, 0.9, 2, 3, 4, 5, 6, 7, 8, 9, 20, 30, 40, 50, 60, 70, 80, 90], "labels": false, "title": null, "tickSize": -3, "domain": false}}
          }
        },
        {
          "mark": {"type": "point", "opacity": 0},
          "encoding": {
            "x": {"field": "x", "type": "quantitative", "scale": {"domain": [-30, 10], "nice": false, "zero": false}, "axis": null},
            "y": {"field": "y", "type": "quantitative", "scale": {"type": "log", "domain": [0.008, 100], "nice": false},
                  "axis": {"orient": "right", "values": [0.02, 0.03, 0.04, 0.05, 0.06, 0.07, 0.08, 0.09, 0.2, 0.3, 0.4, 0.5, 0.6, 0.7, 0.8, 0.9, 2, 3, 4, 5, 6, 7, 8, 9, 20, 30, 40, 50, 60, 70, 80, 90], "labels": false, "title": null, "tickSize": -3, "domain": false}}
          }
        }
      ],
      "resolve": {"axis": {"x": "independent", "y": "independent"}}
    }
  ]
}
